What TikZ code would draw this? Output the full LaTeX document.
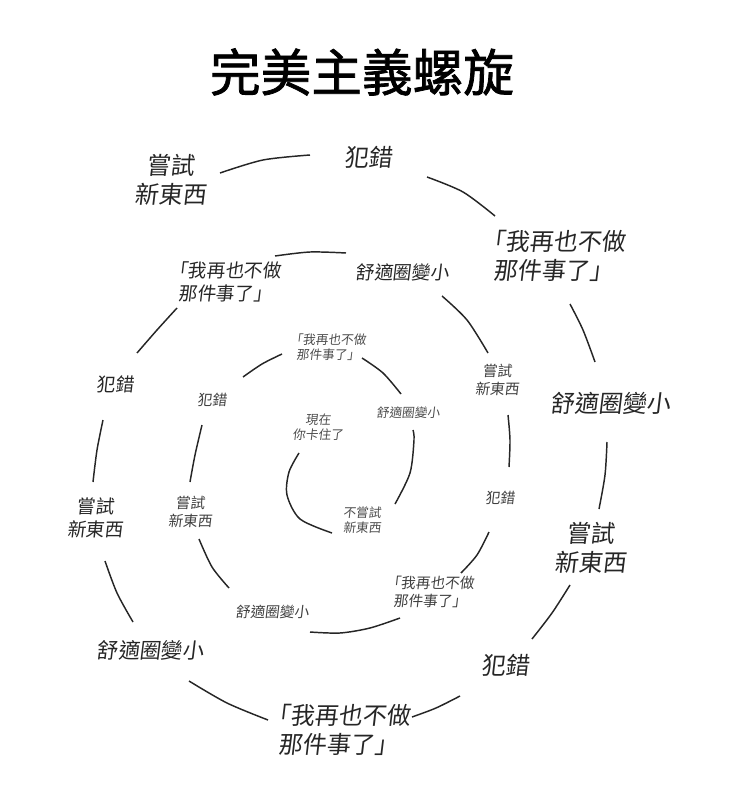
\documentclass[tikz,border=0pt]{standalone}
\usepackage{fontspec}
\newfontfamily\cjk[FakeSlant=0.12]{Noto Sans CJK TC}
\newfontfamily\cjkb[FakeBold=1.5]{Noto Sans CJK TC}
\begin{document}
\begin{tikzpicture}[x=0.75pt,y=-0.75pt,
  arc/.style={line width=1.1pt,black!85},
  lab/.style={font=\cjk, align=center, inner sep=0pt, text=black!85},
  xl/.style={lab,font=\cjk\fontsize{18}{22}\selectfont},
  lg/.style={lab,font=\cjk\fontsize{14}{17}\selectfont},
  md/.style={lab,font=\cjk\fontsize{11}{13.5}\selectfont,text=black!75},
  sm/.style={lab,font=\cjk\fontsize{9.5}{11.5}\selectfont,text=black!70}]
\useasboundingbox (0,0) rectangle (740,798);
\node[font=\cjkb\fontsize{38}{42}\selectfont] (title) at (362,72) {完美主義螺旋};
% labels
\node[xl] (o1) at (368,157) {犯錯};
\node[xl] (o0) at (170,180) {嘗試\\新東西};
\node[xl] (o2) at (553,256) {「我再也不做\\那件事了」};
\node[xl] (o3) at (610,403) {舒適圈變小};
\node[xl] (o4) at (590,548) {嘗試\\新東西};
\node[xl] (o5) at (505,665) {犯錯};
\node[xl] (o6) at (338,730) {「我再也不做\\那件事了」};
\node[lg,font=\cjk\fontsize{16}{19}\selectfont] (o7) at (150,650) {舒適圈變小};
\node[lg] (o8) at (95,518) {嘗試\\新東西};
\node[lg] (o9) at (115,384) {犯錯};
\node[lg] (o10) at (225,282) {「我再也不做\\那件事了」};
\node[lg] (o11) at (402,272) {舒適圈變小};
\node[md] (m1) at (497,380) {嘗試\\新東西};
\node[md] (m2) at (500,498) {犯錯};
\node[md] (m3) at (430,592) {「我再也不做\\那件事了」};
\node[md] (m4) at (272,612) {舒適圈變小};
\node[md] (m5) at (190,512) {嘗試\\新東西};
\node[md] (m6) at (212,400) {犯錯};
\node[sm] (s1) at (328,347) {「我再也不做\\那件事了」};
\node[sm] (s2) at (408,413) {舒適圈變小};
\node[sm] (s3) at (362,520) {不嘗試\\新東西};
\node[sm] (s4) at (318,427) {現在\\你卡住了};
% spiral arcs
\draw[arc] plot[smooth] coordinates {(299,453) (289,472) (287,495) (300,519) (332,533)};
\draw[arc] plot[smooth] coordinates {(395,504) (410,473) (414,440) (413,430)};
\draw[arc] plot[smooth] coordinates {(401,394) (383,373) (362,358)};
\draw[arc] plot[smooth] coordinates {(282,354) (262,364) (243,377)};
\draw[arc] plot[smooth] coordinates {(202,425) (195,455) (190,482)};
\draw[arc] plot[smooth] coordinates {(199,539) (212,567) (229,588)};
\draw[arc] plot[smooth] coordinates {(310,632) (340,633) (370,628) (400,618)};
\draw[arc] plot[smooth] coordinates {(461,573) (477,555) (489,532)};
\draw[arc] plot[smooth] coordinates {(509,467) (510,440) (508,415)};
\draw[arc] plot[smooth] coordinates {(488,353) (467,320) (442,296)};
\draw[arc] plot[smooth] coordinates {(346,253) (310,252) (275,256)};
\draw[arc] plot[smooth] coordinates {(177,308) (157,330) (137,353)};
\draw[arc] plot[smooth] coordinates {(103,420) (97,450) (93,482)};
\draw[arc] plot[smooth] coordinates {(105,561) (117,593) (133,622)};
\draw[arc] plot[smooth] coordinates {(189,681) (227,703) (268,720)};
\draw[arc] plot[smooth] coordinates {(412,717) (436,708) (460,696)};
\draw[arc] plot[smooth] coordinates {(532,639) (552,613) (570,585)};
\draw[arc] plot[smooth] coordinates {(599,509) (605,475) (607,442)};
\draw[arc] plot[smooth] coordinates {(595,362) (583,330) (570,304)};
\draw[arc] plot[smooth] coordinates {(495,216) (463,192) (427,177)};
\draw[arc] plot[smooth] coordinates {(310,155) (263,160) (220,173)};
\end{tikzpicture}
\end{document}
